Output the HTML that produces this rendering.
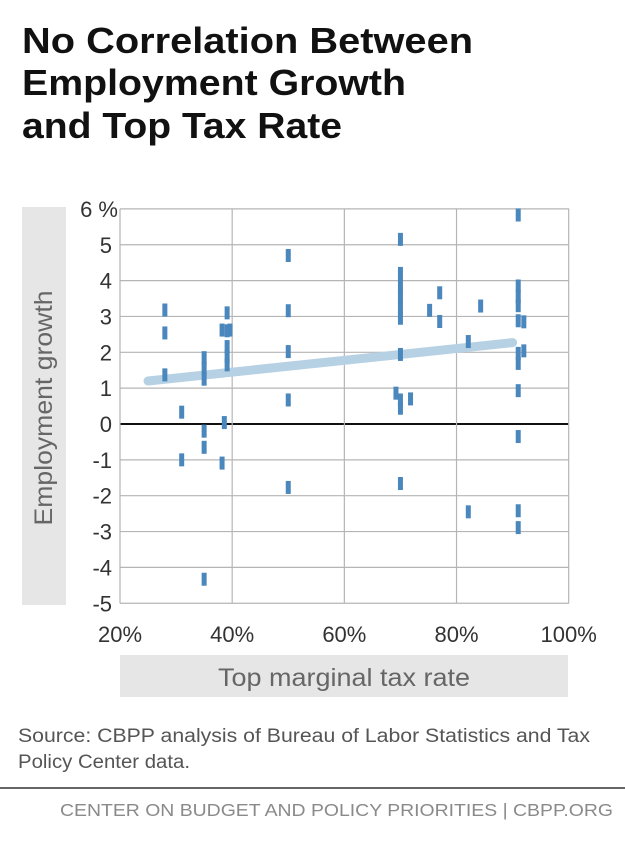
<!DOCTYPE html>
<html><head><meta charset="utf-8"><style>
body{margin:0;background:#fff;width:625px;height:836px;overflow:hidden;font-family:"Liberation Sans",sans-serif}
</style></head><body>
<svg width="625" height="836" viewBox="0 0 625 836" xmlns="http://www.w3.org/2000/svg">
<g font-weight="bold" font-size="36" fill="#111">
<text x="22" y="53" textLength="451" lengthAdjust="spacingAndGlyphs">No Correlation Between</text>
<text x="22" y="95" textLength="384" lengthAdjust="spacingAndGlyphs">Employment Growth</text>
<text x="22" y="138" textLength="320" lengthAdjust="spacingAndGlyphs">and Top Tax Rate</text>
</g>
<rect x="22" y="207" width="44" height="398" fill="#e6e6e6"/>
<text transform="translate(52,408) rotate(-90)" text-anchor="middle" font-size="25" fill="#666" textLength="235" lengthAdjust="spacingAndGlyphs">Employment growth</text>
<rect x="120" y="655" width="448" height="42" fill="#e6e6e6"/>
<text x="344" y="686" text-anchor="middle" font-size="25" fill="#666" textLength="252" lengthAdjust="spacingAndGlyphs">Top marginal tax rate</text>
<g id="grid"></g>
<g id="marks"></g>
<g font-size="19" fill="#555">
<text x="18" y="742" textLength="572" lengthAdjust="spacingAndGlyphs">Source: CBPP analysis of Bureau of Labor Statistics and Tax</text>
<text x="18" y="768" textLength="172" lengthAdjust="spacingAndGlyphs">Policy Center data.</text>
</g>
<rect x="0" y="787" width="625" height="2" fill="#666"/>
<text x="60" y="816" font-size="17.5" fill="#8a8a8a" textLength="553" lengthAdjust="spacingAndGlyphs">CENTER ON BUDGET AND POLICY PRIORITIES | CBPP.ORG</text>
</svg>
<script>
const xTicks=[20,40,60,80,100];
const xTickLabels=["20%","40%","60%","80%","100%"];
const yTicks=[6,5,4,3,2,1,0,-1,-2,-3,-4,-5];
const yTickLabels=["6 %","5","4","3","2","1","0","-1","-2","-3","-4","-5"];
const taxRate=[28,28,28,31,31,35,35,35,35,35,35,38.2,39.6,38.2,38.6,39.1,39.1,39.1,39.1,39.1,50,50,50,50,50,70,70,70,70,70,70,70,69.2,70,70,71.8,70,75.2,77,77,82.1,82.1,84.3,91,91,91,91,91,92,92,91,91,91,91,91,91];
const growth=[3.18,2.54,1.37,0.33,-1.0,1.85,1.25,1.55,-0.2,-0.65,-4.33,2.62,2.62,-1.09,0.04,3.1,2.6,2.16,1.88,1.65,4.7,3.16,2.02,0.67,-1.77,5.15,4.2,3.85,3.55,3.25,2.95,1.94,0.86,0.67,0.44,0.7,-1.66,3.17,3.66,2.86,2.3,-2.45,3.29,5.83,3.85,3.55,3.3,2.88,2.85,2.04,1.97,1.69,0.93,-0.35,-2.42,-2.89];
const trendX=[25,90];
const trendY=[1.2,2.27];
const NS="http://www.w3.org/2000/svg";
const X=v=>120+(v-20)*(448.7/80);
const Y=v=>424-v*35.85;
const grid=document.getElementById('grid'),marks=document.getElementById('marks');
function mk(tag,attrs,parent){const e=document.createElementNS(NS,tag);for(const k in attrs)e.setAttribute(k,attrs[k]);parent.appendChild(e);return e;}
yTicks.forEach((t,i)=>{
 const l=mk('line',{x1:120,x2:569,y1:Y(t),y2:Y(t),stroke:t===0?'#111':'#b5b5b5','stroke-width':t===0?2:1.2},grid);
 
 
 const tx=mk('text',{x:t===6?118:112,y:Y(t)+8,'text-anchor':'end','font-size':22,fill:'#333'},grid);
 tx.textContent=yTickLabels[i];
 
 
});
xTicks.forEach((t,i)=>{
 const l=mk('line',{x1:X(t),x2:X(t),y1:Y(6),y2:Y(-5),stroke:'#b5b5b5','stroke-width':1.2},grid);
 
 
 const tx=mk('text',{x:X(t),y:642,'text-anchor':'middle','font-size':22,fill:'#333'},grid);
 tx.textContent=xTickLabels[i];
 
 
});
const tl=mk('line',{x1:X(trendX[0]),y1:Y(trendY[0]),x2:X(trendX[1]),y2:Y(trendY[1]),stroke:'#b7d1e4','stroke-width':9,'stroke-linecap':'round'},marks);


taxRate.forEach((r,i)=>{
 const p=mk('rect',{x:X(r)-2.5,y:Y(growth[i])-6.5,width:5,height:13,fill:'#4a87bd'},marks);
 
 
});
</script>
</body></html>
